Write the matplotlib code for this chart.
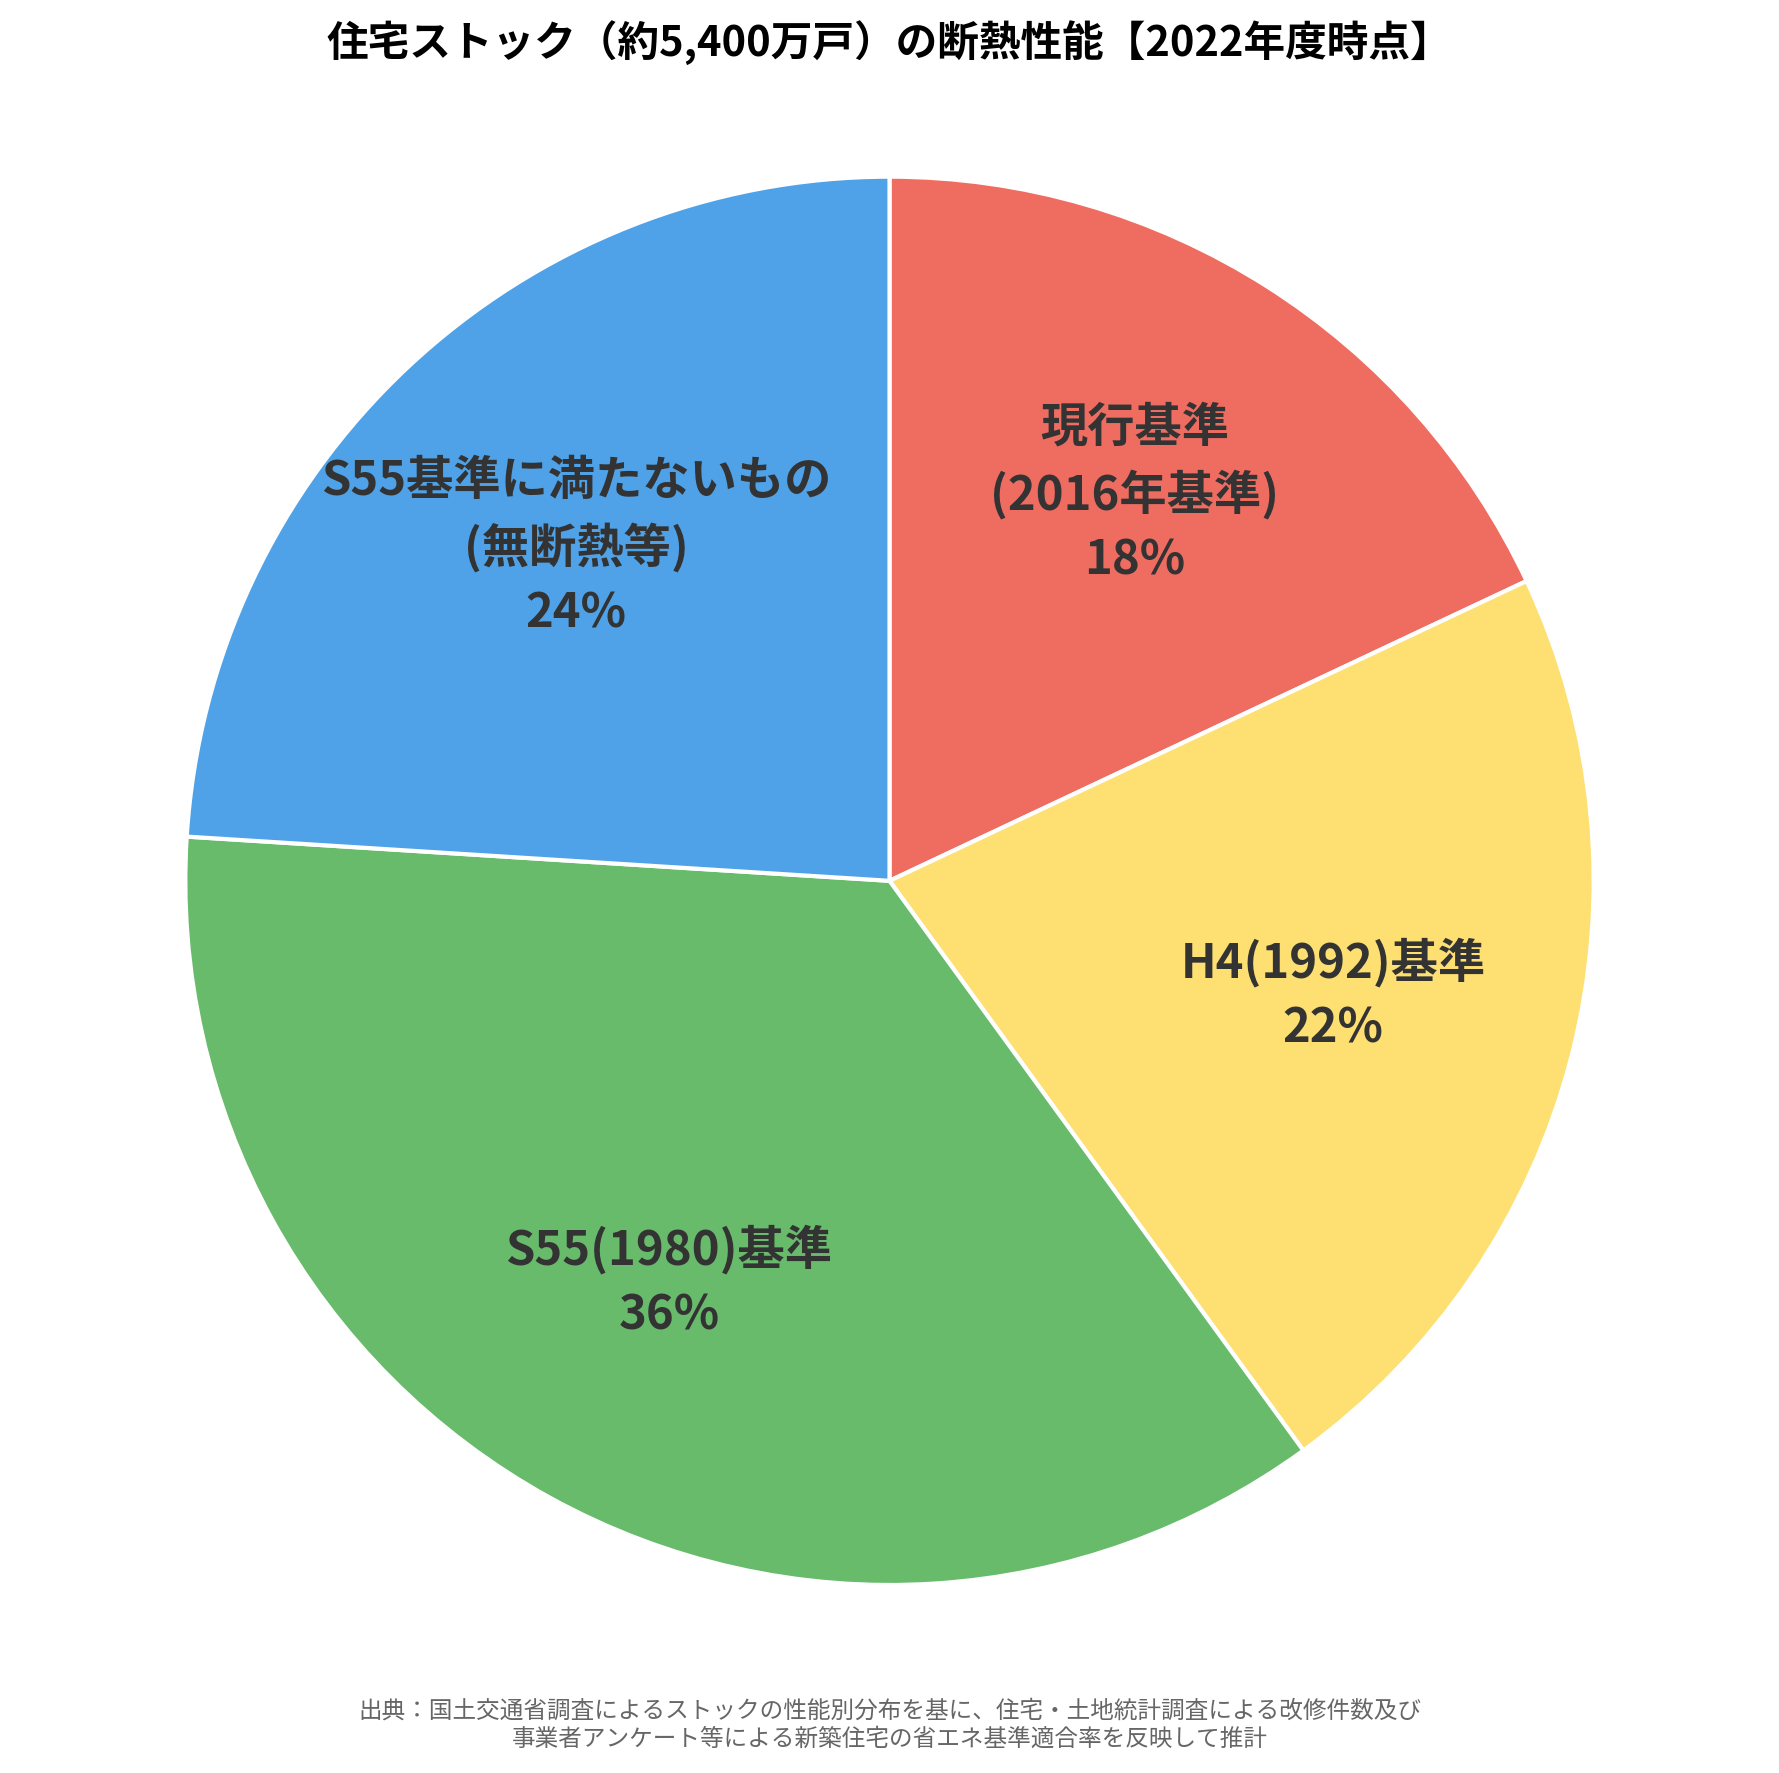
import matplotlib.pyplot as plt
import numpy as np

plt.rcParams['font.family'] = ['Noto Sans CJK JP', 'DejaVu Sans']

labels = ["現行基準\n(2016年基準)", "H4(1992)基準", "S55(1980)基準", "S55基準に満たないもの\n(無断熱等)"]
shares = [18, 22, 36, 24]
colors = ["#EF6C61", "#FDDF72", "#67BB6A", "#4FA2E7"]
title = "住宅ストック（約5,400万戸）の断熱性能【2022年度時点】"
source = ("出典：国土交通省調査によるストックの性能別分布を基に、住宅・土地統計調査による改修件数及び\n"
          "事業者アンケート等による新築住宅の省エネ基準適合率を反映して推計")

fig = plt.figure(figsize=(17.79, 17.73), dpi=100)
w_ax, h_ax = 0.794, 0.797
ax = fig.add_axes([0.5 - w_ax / 2, 0.5032 - h_ax / 2, w_ax, h_ax])

wedges, texts = ax.pie(shares, colors=colors, startangle=90, counterclock=False,
                       wedgeprops=dict(edgecolor="white", linewidth=3))
for w, lab, s in zip(wedges, labels, shares):
    ang = np.deg2rad((w.theta1 + w.theta2) / 2)
    r = 0.65
    ax.text(r * np.cos(ang), r * np.sin(ang), f"{lab}\n{s}%", ha="center", va="center",
            fontsize=34, fontweight="bold", color="#333333", linespacing=1.45)
ax.set_xlim(-1.003, 1.003)
ax.set_ylim(-1.003, 1.003)
ax.set_aspect("equal")
ax.axis("off")

fig.text(0.5, 1 - 43 / 1773, title, ha="center", va="center", fontsize=30, fontweight="bold", color="black")
fig.text(0.5, 1 - 1725 / 1773, source, ha="center", va="center", fontsize=17, color="#666666", linespacing=1.3)

fig.savefig("out.png", dpi=100)
